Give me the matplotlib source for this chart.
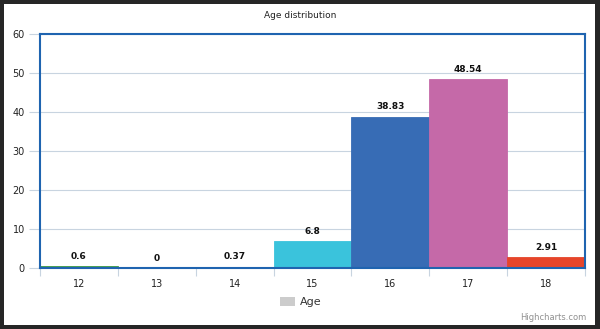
import matplotlib.pyplot as plt
from matplotlib.patches import Rectangle

# data
ages = ['12', '13', '14', '15', '16', '17', '18']
shares = [0.6, 0, 0.37, 6.8, 38.83, 48.54, 2.91]
labels = ['0.6', '0', '0.37', '6.8', '38.83', '48.54', '2.91']
colors = ['#3f9a45', '#2f6fb5', '#2f6fb5', '#3ac3dc', '#376cb5', '#c569a8', '#e6452a']
yticks = [0, 10, 20, 30, 40, 50, 60]

W, H = 600, 329
fig = plt.figure(figsize=(W / 100, H / 100), dpi=100)
fig.patch.set_facecolor('#262626')
# white chart background inside the dark frame
fig.patches.append(Rectangle((4 / W, 4 / H), 591 / W, 321 / H, transform=fig.transFigure,
                             facecolor='white', edgecolor='none', zorder=-5))

ax = fig.add_axes([40 / W, (H - 268) / H, 545 / W, 234 / H])
ax.set_zorder(5)
ax.set_facecolor('white')
x = range(len(ages))
ax.bar(x, shares, width=1.0, color=colors, edgecolor=colors, linewidth=0.6, zorder=2)
for i, v in enumerate(shares):
    ax.text(i, v + 1.3, labels[i], ha='center', va='bottom', fontsize=6.5,
            fontweight='bold', color='#111111')

ax.set_xlim(-0.5, len(ages) - 0.5)
ax.set_ylim(0, 60)
ax.set_yticks(yticks)
ax.set_yticklabels([str(t) for t in yticks], fontsize=7, color='#222222')
ax.yaxis.grid(True, color='#c8d4e0', linewidth=0.8, zorder=0)
ax.set_axisbelow(True)
ax.tick_params(axis='y', length=8, color='#c8d4e0', pad=3)

ax.set_xticks([i + 0.5 for i in range(-1, len(ages))], minor=False)
ax.set_xticklabels([])
ax.set_xticks(list(x), minor=True)
ax.set_xticklabels(ages, minor=True, fontsize=7, color='#222222')
ax.tick_params(axis='x', which='major', length=6, color='#c8d4e0')
ax.tick_params(axis='x', which='minor', length=0, pad=8)

for s in ax.spines.values():
    s.set_color('#1f64b0')
    s.set_linewidth(1.5)

fig.text(0.5, (H - 15) / H, 'Age distribution', ha='center', va='center', fontsize=6.5, color='#222222')
fig.patches.append(Rectangle((280 / W, (H - 306) / H), 15 / W, 9 / H, transform=fig.transFigure,
                             facecolor='#cccccc', edgecolor='none'))
fig.text(300 / W, (H - 302) / H, 'Age', ha='left', va='center', fontsize=8, color='#333333')
fig.text(586 / W, (H - 318) / H, 'Highcharts.com', ha='right', va='center', fontsize=6, color='#909090')

fig.savefig('out.png', dpi=100, facecolor=fig.get_facecolor())
